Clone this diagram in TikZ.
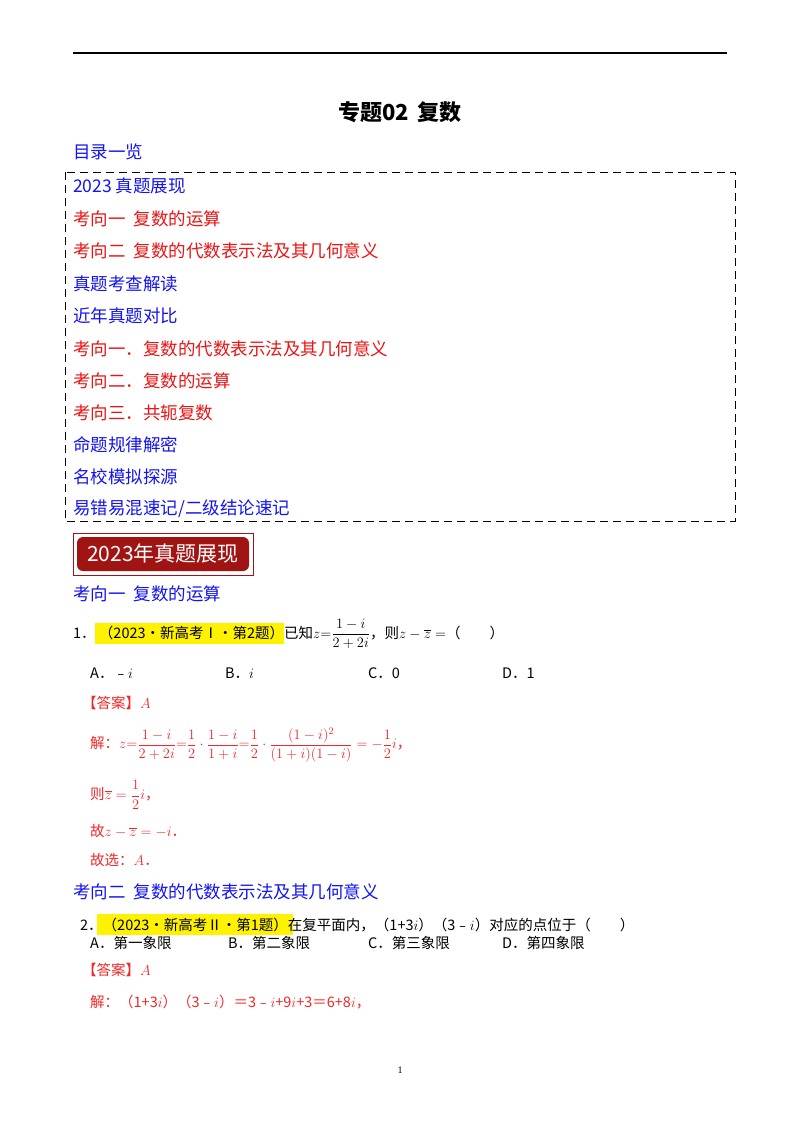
\documentclass[tikz,border=0pt]{standalone}
\usepackage{amsmath}
\usepackage{fontspec}
\setmainfont{Liberation Serif}
\newfontfamily\cjk{Noto Sans CJK SC}
\definecolor{tocblue}{RGB}{20,20,240}
\definecolor{tocred}{RGB}{235,20,20}
\definecolor{ansred}{RGB}{240,40,40}
\definecolor{banred}{RGB}{160,20,20}
\begin{document}
\begin{tikzpicture}[x=1pt,y=-1pt,
  every node/.style={inner sep=0pt,anchor=west},
  toc/.style={font=\cjk\fontsize{17.5}{20}\selectfont},
  body/.style={font=\cjk\fontsize{14.5}{17}\selectfont},
  ans/.style={body,text=ansred}]
\useasboundingbox (0,0) rectangle (800,1132);
\fill[white] (0,0) rectangle (800,1132);
\draw[line width=1.2pt] (73,53) coordinate(l1) -- (727,53) coordinate(l2);
\node (title) at (400,112) [anchor=center,font=\cjk\bfseries\fontsize{22}{25}\selectfont] {专题02\, 复数};
\node[toc,text=tocblue] (mulu) at (73,152) {目录一览};
\draw[dashed,dash pattern=on 8pt off 5pt,line width=0.9pt] (65,172) rectangle (735,521);
\foreach \y/\c/\t [count=\i] in {186/tocblue/{2023 真题展现},219/tocred/{考向一\ \ 复数的运算},251/tocred/{考向二\ \ 复数的代数表示法及其几何意义},284/tocblue/{真题考查解读},316/tocblue/{近年真题对比},349/tocred/{考向一．复数的代数表示法及其几何意义},381/tocred/{考向二．复数的运算},413/tocred/{考向三．共轭复数},445/tocblue/{命题规律解密},477/tocblue/{名校模拟探源},509/tocblue/{易错易混速记/二级结论速记}}
  \node[toc,text=\c] (t\i) at (73,\y) {\t};
% banner
\draw[banred,line width=0.8pt] (73,533) rectangle (253,575);
\fill[banred,rounded corners=6pt] (77,537) rectangle (249,571);
\node (ban) at (163,554) [anchor=center,text=white,font=\cjk\fontsize{21}{24}\selectfont] {2023年真题展现};
\node[toc,text=tocblue] (k1) at (73,594) {考向一\ \ 复数的运算};
% Q1
\fill[yellow] (95,623) rectangle (284,644);
\node[body] (q1) at (73,634) {1．\ （2023•新高考Ⅰ•第2题）已知$z{=}\dfrac{1-i}{2+2i}$，则$z-\overline{z}=$（\qquad）};
\node[body] (a1) at (90,673) {A．﹣$i$};
\node[body] (b1) at (225,673) {B．$i$};
\node[body] (c1) at (368,673) {C．0};
\node[body] (d1) at (502,673) {D．1};
\node[ans] (ans1) at (82,703) {【答案】$A$};
\node[ans] (s1) at (90,745) {解：$z{=}\dfrac{1-i}{2+2i}{=}\dfrac12\cdot\dfrac{1-i}{1+i}{=}\dfrac12\cdot\dfrac{(1-i)^2}{(1+i)(1-i)}=-\dfrac12 i$，};
\node[ans] (s2) at (90,795) {则$\overline{z}=\dfrac12 i$，};
\node[ans] (s3) at (90,831) {故$z-\overline{z}=-i$．};
\node[ans] (s4) at (90,860) {故选：$A$．};
\node[toc,text=tocblue] (k2) at (73,892) {考向二\ \ 复数的代数表示法及其几何意义};
% Q2
\fill[yellow] (97,914) rectangle (293,935);
\node[body] (q2) at (80,925) {2．（2023•新高考Ⅱ•第1题）在复平面内，（1+3$i$）（3﹣$i$）对应的点位于（\qquad）};
\node[body] (a2) at (90,943) {A．第一象限};
\node[body] (b2) at (228,943) {B．第二象限};
\node[body] (c2) at (368,943) {C．第三象限};
\node[body] (d2) at (502,943) {D．第四象限};
\node[ans] (ans2) at (82,970) {【答案】$A$};
\node[ans] (s5) at (90,1002) {解：（1+3$i$）（3﹣$i$）＝3﹣$i$+9$i$+3＝6+8$i$，};
\node (pg) at (400,1070) [anchor=center,font=\fontsize{10}{12}\selectfont] {1};
\end{tikzpicture}
\end{document}
